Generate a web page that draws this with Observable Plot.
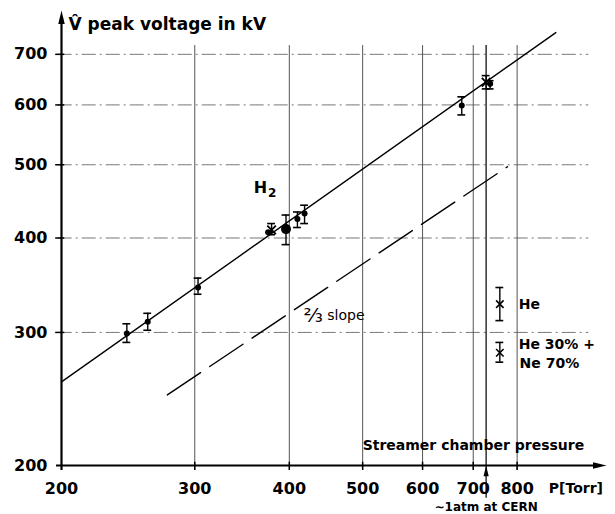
<!DOCTYPE html>
<html><head><meta charset="utf-8">
<script src="https://cdn.jsdelivr.net/npm/d3@7"></script>
<script src="https://cdn.jsdelivr.net/npm/@observablehq/plot@0.6"></script>
<style>body{margin:0;background:#fff} svg{display:block}</style>
</head><body><div id="chart"></div>
<script>
// ---- tick values / labels ----
const xTicks = [200, 300, 400, 500, 600, 700, 800];
const xTickLabels = ["200", "300", "400", "500", "600", "700", "800"];
const yTicks = [200, 300, 400, 500, 600, 700];
const yTickLabels = ["200", "300", "400", "500", "600", "700"];

// ---- H2 measurements (pressure Torr, peak voltage kV, error bar low/high) ----
const h2P    = [244, 260, 303, 375, 379, 396, 410, 419, 676, 728, 737];
const h2V    = [299, 310, 344, 407, 410, 411, 424, 431, 599, 643, 640];
const h2Lo   = [291, 302, 337, null, 404, 392, 413, 418, 582, 630, 630];
const h2Hi   = [308, 318, 354, null, 418, 429, 433, 442, 615, 656, 646];
const h2Mark = ["dot", "dot", "dot", "dot", "x", "big", "dot", "dot", "dot", "x", "dot"];

// ---- He and He/Ne points ----
const gasP  = [759, 759];
const gasV  = [327, 282];
const gasLo = [311, 274];
const gasHi = [344, 291];

// ---- fitted H2 line and 2/3-slope reference line ----
const fitP = [200, 900];
const fitV = [258, 748];
const slopeP = [276, 777];
const slopeV = [248, 497];

// ---- CERN atmospheric pressure ----
const cernP = 728;

const h2 = h2P.map((P, i) => ({P, V: h2V[i], lo: h2Lo[i], hi: h2Hi[i], mark: h2Mark[i]}));
const gas = gasP.map((P, i) => ({P, V: gasV[i], lo: gasLo[i], hi: gasHi[i]}));
const bars = [...h2.filter(d => d.lo != null), ...gas];
const fit = fitP.map((P, i) => ({P, V: fitV[i]}));
const slope = slopeP.map((P, i) => ({P, V: slopeV[i]}));

const F = "'DejaVu Sans', Verdana, sans-serif";
const arrowHead = {
  draw(ctx, size) {
    const r = Math.sqrt(size / Math.PI);
    ctx.moveTo(0, -2 * r);
    ctx.lineTo(0.65 * r, 0.7 * r);
    ctx.lineTo(-0.65 * r, 0.7 * r);
    ctx.closePath();
  }
};

const plot = Plot.plot({
  width: 615, height: 514,
  marginLeft: 61, marginRight: 9, marginTop: 10, marginBottom: 49,
  x: {type: "log", domain: [200, 1050], axis: null},
  y: {type: "log", domain: [200, 800], axis: null},
  style: {fontFamily: F, background: "#fff", color: "#000"},
  marks: [
    // grid
    Plot.ruleY(yTicks.slice(1), {x1: 198, x2: 995, stroke: "#777", strokeWidth: 1, strokeDasharray: "14,4,2,4"}),
    Plot.ruleX(xTicks.slice(1), {y1: 197, y2: 719, stroke: "#555", strokeWidth: 1}),
    Plot.ruleX([cernP], {y1: 181, y2: 719, stroke: "#222", strokeWidth: 1.4}),
    // axes
    Plot.ruleX([200], {y1: 197, y2: 780, stroke: "#000", strokeWidth: 2.2}),
    Plot.ruleY([200], {x1: 197, x2: 1020, stroke: "#000", strokeWidth: 2.2}),
    Plot.dot([0], {x: () => 200, y: () => 800, symbol: arrowHead, r: 5, fill: "#000", stroke: null, dy: 10}),
    Plot.dot([0], {x: () => 1050, y: () => 200, symbol: arrowHead, r: 5, fill: "#000", stroke: null, rotate: 90, dx: -10}),
    Plot.dot([0], {x: () => cernP, y: () => 200, symbol: arrowHead, r: 4, fill: "#000", stroke: null, dy: 8}),
    // ticks
    Plot.ruleY(yTicks.slice(1), {x1: 196.5, x2: 202, stroke: "#000", strokeWidth: 1.5}),
    Plot.ruleX(xTicks.slice(1), {y1: 197, y2: 202, stroke: "#000", strokeWidth: 1.5}),
    Plot.text(yTickLabels, {x: () => 200, y: (d, i) => yTicks[i], text: d => d, dx: -14, textAnchor: "end", fontSize: 16, fontWeight: "bold"}),
    Plot.text(xTickLabels, {x: (d, i) => xTicks[i], y: () => 200, text: d => d, dy: 23, fontSize: 16, fontWeight: "bold"}),
    // lines
    Plot.line(fit, {x: "P", y: "V", stroke: "#000", strokeWidth: 1.4}),
    Plot.line(slope, {x: "P", y: "V", stroke: "#000", strokeWidth: 1.4, strokeDasharray: "40,11"}),
    // error bars
    Plot.ruleX(bars, {x: "P", y1: "lo", y2: "hi", stroke: "#000", strokeWidth: 1.4}),
    Plot.ruleY(bars, {y: "lo", x1: d => d.P / 1.012, x2: d => d.P * 1.012, stroke: "#000", strokeWidth: 1.6}),
    Plot.ruleY(bars, {y: "hi", x1: d => d.P / 1.012, x2: d => d.P * 1.012, stroke: "#000", strokeWidth: 1.6}),
    // points
    Plot.dot(h2.filter(d => d.mark === "dot"), {x: "P", y: "V", r: 3, fill: "#000", stroke: null}),
    Plot.dot(h2.filter(d => d.mark === "big"), {x: "P", y: "V", r: 5, fill: "#000", stroke: null}),
    Plot.dot(h2.filter(d => d.mark === "x"), {x: "P", y: "V", symbol: "times", r: 4, stroke: "#000", strokeWidth: 1.8}),
    Plot.dot(gas, {x: "P", y: "V", symbol: "times", r: 3.5, stroke: "#000", strokeWidth: 1.6}),
    // annotations
    Plot.text(["H"], {x: () => 359, y: () => 466, text: d => d, textAnchor: "start", fontSize: 16, fontWeight: "bold"}),
    Plot.text(["2"], {x: () => 375, y: () => 458, text: d => d, textAnchor: "start", fontSize: 12, fontWeight: "bold"}),
    Plot.text(["He"], {x: () => 804, y: () => 327, text: d => d, textAnchor: "start", fontSize: 14, fontWeight: "bold"}),
    Plot.text(["He 30% +"], {x: () => 804, y: () => 289, text: d => d, textAnchor: "start", fontSize: 14, fontWeight: "bold"}),
    Plot.text(["Ne 70%"], {x: () => 806, y: () => 272.5, text: d => d, textAnchor: "start", fontSize: 14, fontWeight: "bold"}),
    Plot.text(["\u2154"], {x: () => 430, y: () => 316, text: d => d, fontSize: 20}),
    Plot.text(["slope"], {x: () => 449, y: () => 316, text: d => d, textAnchor: "start", fontSize: 14}),
    Plot.text(["Streamer chamber pressure"], {x: () => 500, y: () => 212.4, text: d => d, textAnchor: "start", fontSize: 14, fontWeight: "bold"}),
    Plot.text(["P[Torr]"], {x: () => 881, y: () => 200, text: d => d, textAnchor: "start", dy: 23, fontSize: 14, fontWeight: "bold"}),
    Plot.text(["\u223C1atm at CERN"], {x: () => cernP, y: () => 200, text: d => d, dy: 42, fontSize: 12, fontWeight: "bold"}),
    Plot.text(["V\u0302 peak voltage in kV"], {x: () => 200, y: () => 766, text: d => d, dx: 7, textAnchor: "start", fontSize: 17, fontWeight: "bold"})
  ]
});
document.getElementById("chart").appendChild(plot);
</script>
</body></html>
